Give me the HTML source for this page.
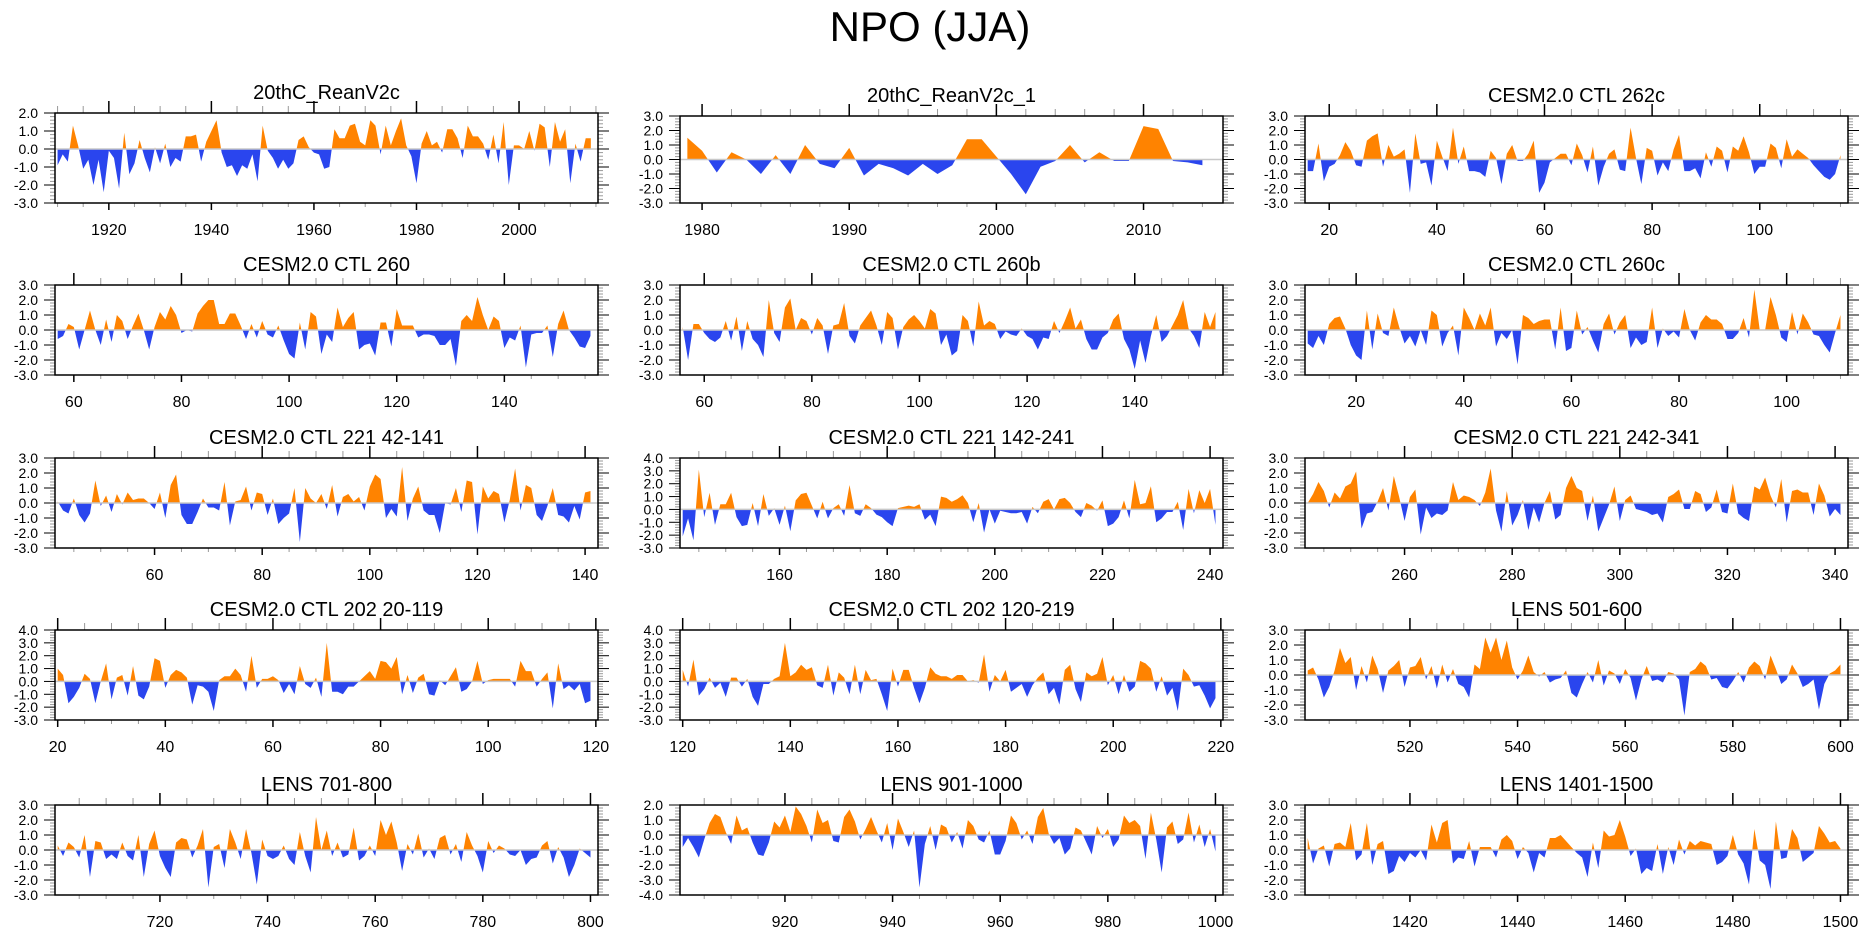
<!DOCTYPE html>
<html><head><meta charset="utf-8"><title>NPO (JJA)</title>
<style>
html,body{margin:0;padding:0;background:#fff;}
svg{display:block;font-family:"Liberation Sans",Arial,sans-serif;}
</style></head>
<body>
<svg id="chart" width="1861" height="936" viewBox="0 0 1861 936" xmlns="http://www.w3.org/2000/svg">
<text x="930" y="41" font-size="42" text-anchor="middle" fill="#000">NPO (JJA)</text>
</svg>
<script>
const titles = ["20thC_ReanV2c","20thC_ReanV2c_1","CESM2.0 CTL 262c","CESM2.0 CTL 260","CESM2.0 CTL 260b","CESM2.0 CTL 260c","CESM2.0 CTL 221 42-141","CESM2.0 CTL 221 142-241","CESM2.0 CTL 221 242-341","CESM2.0 CTL 202 20-119","CESM2.0 CTL 202 120-219","LENS 501-600","LENS 701-800","LENS 901-1000","LENS 1401-1500"];
const startYears = [1910,1979,16,57,56,11,42,142,242,20,120,501,701,901,1401];
const yMins = [-3,-3,-3,-3,-3,-3,-3,-3,-3,-3,-3,-3,-3,-4,-3];
const yMaxs = [2,3,3,3,3,3,3,4,3,4,4,3,3,2,3];
const labelSteps = [20,10,20,20,20,20,20,20,20,20,20,20,20,20,20];
const minorSteps = [5,2,5,5,5,5,5,5,5,5,5,5,5,5,5];

const vals1 = [-0.9,-0.3,-0.7,1.3,0.2,-1.1,-0.6,-2.0,-0.6,-2.4,-0.1,-0.5,-2.2,0.9,-1.4,-0.8,0.5,-0.5,-1.3,0.1,-0.8,0.3,-1.0,-0.5,-0.7,0.7,0.7,0.8,-0.7,0.4,1.0,1.6,-0.2,-1.0,-0.9,-1.5,-0.9,-1.1,-0.3,-1.8,1.3,-0.1,-0.5,-1.1,-0.6,-1.1,-0.8,0.5,0.7,0.1,-0.2,-0.3,-1.1,-1.0,1.1,0.6,0.6,1.3,1.4,0.4,0.2,1.6,1.3,-0.3,1.3,0.2,1.0,1.7,0.2,-0.4,-1.9,0.3,1.0,0.2,0.4,-0.2,1.1,1.1,0.6,-0.5,1.3,0.7,0.7,0.3,-0.6,0.8,-0.8,1.5,-2.0,0.2,0.2,0.0,1.0,-0.1,1.4,1.2,-1.0,1.5,0.4,1.1,-1.9,0.3,-0.7,0.6,0.6];
const vals2 = [1.5,0.6,-0.9,0.5,0.0,-1.0,0.3,-1.0,1.0,-0.3,-0.6,0.8,-1.1,-0.3,-0.6,-1.1,-0.3,-1.0,-0.4,1.4,1.4,0.2,-1.0,-2.4,-0.5,-0.1,1.0,-0.2,0.5,-0.1,-0.1,2.3,2.1,-0.1,-0.2,-0.4];
const vals3 = [-0.8,-0.8,1.1,-1.5,-0.5,-0.3,0.3,1.2,0.6,-0.4,-0.5,1.3,1.6,1.8,-0.5,1.0,0.2,0.4,0.7,-2.3,1.8,-0.3,-0.2,-1.8,1.3,0.2,-0.8,2.2,-0.3,0.9,-0.8,-0.8,-0.9,-1.2,0.6,0.1,-1.7,0.4,1.0,-0.1,-0.1,0.4,1.3,-2.3,-1.6,-0.2,0.1,0.4,0.4,-0.4,1.1,0.3,-0.9,0.9,-1.8,-0.5,0.4,0.7,-0.7,-0.8,2.2,0.1,-1.7,0.8,0.6,-1.1,-0.2,-0.8,0.7,1.7,-0.8,-0.8,-0.6,-1.3,0.5,-0.5,0.9,0.6,-0.9,0.9,0.6,1.6,0.5,-1.0,-0.5,-0.5,1.1,0.8,-0.6,1.4,0.2,0.7,0.4,0.1,-0.4,-0.8,-1.2,-1.4,-1.0,0.3];
const vals4 = [-0.6,-0.4,0.4,0.2,-1.3,0.0,1.3,0.0,-1.0,0.7,-0.8,1.0,0.6,-0.6,0.3,1.1,0.0,-1.3,0.2,1.2,0.7,1.6,1.0,-0.2,0.0,-0.1,1.1,1.6,2.0,2.0,0.4,0.4,1.1,1.1,0.3,-0.6,0.4,-0.5,0.6,-0.3,-0.5,0.3,-0.7,-1.6,-1.9,0.5,-1.3,1.2,0.9,-1.6,-0.3,-0.8,1.5,0.2,0.8,1.2,-1.3,-1.0,-0.9,-1.7,0.5,0.5,-1.1,1.4,0.3,0.3,0.3,-0.5,-0.3,-0.3,-0.4,-1.0,-1.0,-0.6,-2.4,0.6,1.0,0.6,2.2,1.0,0.0,0.9,0.6,-1.2,-0.5,-0.7,0.3,-2.5,-0.3,-0.2,-0.2,0.3,-1.8,0.4,1.3,0.0,-0.5,-1.1,-1.2,-0.4];
const vals5 = [0.2,-2.0,0.4,0.4,-0.2,-0.6,-0.8,-0.5,0.6,-0.7,0.9,-1.4,0.6,-0.6,-1.0,-1.8,2.0,-0.2,-0.8,1.5,2.1,0.0,0.8,0.6,-0.3,0.8,0.3,-1.6,0.3,0.4,1.8,-0.4,-0.9,0.3,0.8,1.3,0.3,-1.0,1.2,0.8,-1.3,0.2,0.7,1.0,0.6,0.1,1.4,1.1,-1.0,-0.3,-1.7,-1.4,1.0,0.6,-1.1,1.9,0.3,0.6,0.4,-0.6,-0.1,-0.3,-0.4,0.1,-0.4,-0.6,-1.3,-0.5,-0.6,0.6,-0.2,0.6,1.5,0.1,0.7,-0.6,-1.3,-1.3,-0.5,-0.2,0.7,1.1,-0.6,-1.3,-2.6,-0.7,-2.2,-0.4,1.0,-0.8,-0.4,0.3,1.0,2.0,0.1,-0.4,-1.2,1.2,0.2,1.2];
const vals6 = [-0.9,-1.2,-0.4,-1.0,0.4,0.8,0.9,0.1,-1.0,-1.7,-2.0,1.3,-1.3,1.1,-0.2,-0.4,1.5,0.2,-0.9,-0.4,-1.1,0.0,-1.0,1.3,1.0,-1.1,-0.2,0.3,-1.7,1.5,0.8,0.0,1.1,0.3,1.5,-1.1,-0.2,-0.6,0.0,-2.3,1.0,0.8,0.4,0.6,0.7,0.7,-1.3,1.5,-1.4,-1.2,1.3,-0.3,0.2,-0.7,-1.5,0.4,1.1,-0.3,0.5,1.0,-1.2,-0.5,-1.0,-0.8,1.5,-1.2,0.1,-0.4,-0.1,-0.5,1.4,0.0,-0.7,0.5,1.0,0.7,0.7,0.4,-0.6,-0.6,-0.2,0.8,-0.5,2.7,0.0,0.0,2.2,1.0,-0.5,-0.8,1.2,-0.3,1.1,0.5,-0.3,-0.4,-1.0,-1.5,-0.2,1.0];
const vals7 = [0.1,-0.5,-0.7,0.3,-0.8,-1.3,-0.7,1.5,-0.2,0.5,-0.6,0.6,-0.1,0.7,0.2,0.3,0.3,0.0,-0.4,0.7,-1.0,1.2,1.9,-0.8,-1.4,-1.4,-0.6,0.3,-0.3,-0.3,-0.5,1.4,-1.5,0.1,0.2,1.1,-0.5,0.7,0.6,-0.8,0.3,-1.4,-1.0,-0.7,1.0,-2.6,1.0,0.3,0.0,0.6,-0.4,1.2,-0.9,0.4,0.6,0.1,0.4,-0.5,1.1,1.9,1.6,-1.0,-0.4,-0.9,2.4,-1.2,0.3,1.1,-0.5,-0.8,-0.8,-2.0,0.0,-0.1,1.0,-0.6,1.5,1.4,-2.1,1.1,0.3,0.8,0.6,-1.3,0.2,2.3,-0.5,1.2,1.0,-0.8,-1.2,-0.2,1.0,-0.8,-0.9,-1.3,-0.2,-1.1,0.7,0.8];
const vals8 = [-2.1,-0.7,-2.4,3.1,-0.6,1.3,-1.2,0.4,0.4,1.3,-0.6,-1.3,-1.2,0.5,-1.3,1.2,-0.5,0.1,-1.2,0.3,-1.7,0.7,1.2,1.3,0.3,-0.7,0.6,-0.7,0.1,0.4,-0.5,1.9,-0.3,-0.5,0.4,0.1,-0.4,-0.6,-1.0,-1.3,0.1,0.2,0.3,0.2,0.4,-0.8,-0.4,-1.3,1.0,0.9,0.6,0.8,1.1,0.5,-1.0,0.5,-1.8,0.0,-1.1,-0.1,-0.2,-0.3,-0.3,-0.2,-1.1,0.2,-0.3,0.6,0.8,0.0,0.8,0.9,0.5,-0.2,-0.6,0.5,0.3,-0.1,0.7,-1.3,-1.1,-0.6,0.7,-0.7,2.3,0.4,0.5,1.8,-1.0,-0.7,-0.2,-0.2,0.6,-1.6,1.6,-0.3,1.5,0.5,1.6,-1.2];
const vals9 = [0.0,0.6,1.4,0.8,-0.3,0.7,0.3,1.1,1.3,2.1,-1.7,-0.7,-0.6,0.1,1.0,-0.5,1.8,0.4,-1.2,0.4,0.9,-2.1,-0.3,-1.0,-0.7,-0.8,-0.5,1.4,0.2,0.5,0.4,0.2,-0.2,0.7,2.3,-0.5,-1.9,0.8,-1.5,-0.8,0.2,-1.8,-0.3,-1.3,0.0,0.8,-1.1,-0.8,1.0,1.8,1.0,0.8,-1.2,0.5,-1.9,-1.0,-0.1,1.1,-1.2,0.2,0.5,-0.4,-0.5,-0.6,-0.8,-0.7,-1.3,0.4,0.6,0.9,-0.4,-0.4,0.8,0.6,-0.6,-0.3,0.9,-0.6,-0.7,1.3,-0.7,-1.0,-1.2,1.1,0.9,1.7,0.5,-0.3,1.6,-1.3,0.8,0.9,0.7,0.7,-0.8,1.3,0.5,-0.9,-0.4,-0.8];
const vals10 = [1.0,0.5,-1.7,-1.2,-0.5,0.6,0.2,-1.7,0.0,1.4,-1.4,0.3,0.5,-1.1,1.2,-1.1,-1.4,-0.4,1.8,1.6,-0.5,0.5,0.9,0.7,0.3,-1.8,-0.3,-0.4,-0.8,-2.3,0.1,0.4,0.4,1.0,0.5,-0.8,2.0,-0.5,0.2,0.2,0.4,0.1,-0.9,-0.2,-1.0,1.2,-0.2,-0.5,0.3,-1.2,3.0,-0.8,-0.8,-1.0,-0.4,-0.4,0.0,0.4,0.8,0.2,1.6,1.5,1.0,1.9,-1.0,0.5,-0.9,0.3,0.6,-1.0,-1.1,0.1,-0.3,0.4,1.1,-0.8,-0.6,0.0,1.6,-0.2,0.1,0.2,0.2,0.2,0.2,-0.4,1.6,0.8,0.8,-0.4,0.2,0.7,-2.1,1.4,-0.6,-0.3,-0.7,-0.2,-1.7,-1.5];
const vals11 = [0.9,-0.4,1.7,-1.1,-0.6,0.3,-0.5,-0.1,-1.2,0.3,0.3,-0.4,0.2,-1.2,-1.9,-0.2,-0.2,0.2,0.4,3.0,0.4,0.7,1.3,0.9,1.1,-0.3,-0.5,1.3,-1.1,0.7,0.3,-1.0,1.3,-1.0,0.9,0.1,0.2,-1.0,-2.3,1.0,-0.4,0.9,0.9,-0.5,-1.7,-0.5,1.1,0.6,0.4,0.4,0.2,0.5,0.5,0.0,0.1,-0.1,2.1,-0.8,0.5,0.0,0.9,-0.8,-0.5,-0.2,-1.2,-0.3,0.3,0.7,-1.0,-0.5,-1.8,0.9,1.3,-0.6,-1.6,0.7,0.4,0.6,1.9,-0.3,0.5,-1.0,0.5,-0.8,-0.4,1.6,1.4,1.0,-0.8,0.4,-1.1,-0.5,-2.3,1.0,0.5,-0.4,-0.3,-1.1,-2.1,-1.3];
const vals12 = [0.3,0.5,-0.3,-1.5,-0.8,0.3,1.8,0.8,1.2,-1.0,0.6,-0.5,1.3,0.4,-1.2,0.3,0.6,1.0,-0.8,0.5,0.6,1.2,-0.3,0.6,-0.9,0.7,-0.5,0.4,-0.6,-0.8,-1.5,0.7,0.4,2.5,1.5,2.5,1.0,2.3,0.5,-0.3,0.3,1.3,0.2,-0.1,0.2,-0.5,-0.3,-0.2,0.3,-1.2,-1.5,-0.6,0.2,-0.5,1.0,-0.7,0.3,0.1,-0.6,0.4,-0.2,-1.7,-0.3,0.6,-0.4,-0.3,-0.5,0.2,0.1,-0.3,-2.7,0.2,0.4,0.9,0.6,-0.3,-0.2,-0.8,-0.9,-0.4,0.2,-0.5,0.5,0.9,0.6,-0.3,1.3,0.4,-0.6,-0.3,0.7,0.1,-0.8,-0.6,-0.3,-2.3,-0.6,0.1,0.3,0.7];
const vals13 = [0.3,-0.4,0.5,0.2,-0.5,1.0,-1.8,0.6,0.5,-0.6,-0.3,-0.6,0.5,-0.4,-0.7,1.0,-1.8,0.4,1.3,-0.4,-1.2,-1.8,0.5,0.8,0.7,-0.5,0.3,1.4,-2.5,0.2,0.4,-1.2,1.4,0.5,-0.6,1.4,-0.2,-2.3,0.7,-0.4,-0.6,-0.4,0.3,-0.6,-1.0,1.2,-0.4,-1.5,2.2,0.0,1.3,-0.4,0.5,-0.5,-0.3,1.5,-0.7,-0.4,0.3,-0.4,2.0,1.0,1.9,0.5,-1.4,0.4,-0.3,1.1,-0.5,0.1,-0.6,0.8,1.0,-0.3,0.4,-0.8,1.2,0.3,-0.4,-1.5,0.6,-0.2,0.3,0.1,-0.3,-0.4,0.0,-1.0,-0.6,-0.5,0.3,0.6,-0.9,0.2,-0.5,-1.8,-1.0,0.1,-0.2,-0.5];
const vals14 = [-0.8,-0.2,-0.8,-1.5,-0.3,0.8,1.4,1.2,0.2,-0.6,1.3,0.3,0.5,-0.5,-1.3,-1.4,-0.5,0.9,0.5,1.3,0.2,1.9,1.4,0.6,-0.5,1.7,0.8,1.0,-0.4,-0.5,1.2,1.7,0.9,-0.3,0.4,1.2,0.3,-0.5,0.8,-1.0,1.1,0.2,-0.8,0.3,-3.5,-0.6,0.6,-1.0,0.7,0.5,-0.5,0.2,-0.9,1.0,0.6,-0.3,-0.5,0.3,-1.3,-1.3,-0.4,1.3,0.8,-0.3,0.3,-0.6,1.2,1.8,0.1,-0.6,-0.2,-1.3,-0.9,0.5,0.3,-0.5,-1.3,0.6,-0.2,0.4,-0.8,-0.3,1.3,0.8,1.0,0.6,-1.6,1.5,-0.3,-2.5,0.5,0.9,-0.6,-0.3,1.5,-0.5,0.7,-0.8,0.4,-1.1];
const vals15 = [0.8,-0.9,0.1,0.3,-1.1,0.4,0.5,0.2,1.8,-0.7,-0.3,1.8,-1.0,0.4,0.6,-1.6,-1.4,-0.4,-0.8,-0.2,-0.5,0.0,-0.7,1.7,0.5,1.8,2.0,-0.9,-0.5,-0.6,0.6,-1.1,0.2,0.2,0.2,-0.5,0.7,1.0,0.6,-0.6,0.2,-0.2,-1.5,-0.2,-0.5,0.8,0.8,1.0,0.6,0.2,-0.2,-0.5,-1.8,0.5,-1.2,1.3,0.9,1.0,2.0,0.9,-0.4,0.1,-1.6,-1.2,-1.4,0.4,-1.6,0.2,-1.0,0.7,-0.3,0.6,0.3,0.6,0.5,0.4,-1.0,-0.8,-0.4,1.0,-0.3,-0.9,-2.3,1.4,-0.7,-1.0,-2.6,1.9,-0.6,-0.5,1.4,0.8,-0.8,-0.5,-0.2,1.6,1.1,0.5,0.6,0.1];
const allVals = [vals1,vals2,vals3,vals4,vals5,vals6,vals7,vals8,vals9,vals10,vals11,vals12,vals13,vals14,vals15];

const NS = "http://www.w3.org/2000/svg";
const svg = document.getElementById("chart");
const colLeft = [55, 680, 1305];
const plotW = 543, plotH = 90;
const rowTop = [116, 285, 458, 630, 805];
function mk(tag, attrs, parent) {
  const e = document.createElementNS(NS, tag);
  for (const k in attrs) e.setAttribute(k, attrs[k]);
  (parent || svg).appendChild(e);
  return e;
}
for (let p = 0; p < 15; p++) {
  const col = p % 3, row = Math.floor(p / 3);
  const L = colLeft[col], T = (p === 0 ? 113 : rowTop[row]), R = L + plotW;
  const B = (row === 0 ? 203 : T + plotH), H = B - T;
  const data = allVals[p], s = startYears[p];
  const xmin = s - 0.5, xmax = s + data.length - 1 + 1.4;
  const ymin = yMins[p], ymax = yMaxs[p];
  const xs = v => L + (v - xmin) / (xmax - xmin) * plotW;
  const ys = v => B - (v - ymin) / (ymax - ymin) * H;
  const g = mk("g", {});
  
  
  const t = mk("text", {x: (L + R) / 2, y: T - 14, "font-size": 20, "text-anchor": "middle", fill: "#000"}, g);
  t.textContent = titles[p];
  
  
  const id = "c" + p;
  const defs = mk("defs", {}, g);
  const cpU = mk("clipPath", {id: id + "u"}, defs);
  mk("rect", {x: L, y: T, width: plotW, height: ys(0) - T}, cpU);
  const cpD = mk("clipPath", {id: id + "d"}, defs);
  mk("rect", {x: L, y: ys(0), width: plotW, height: B - ys(0)}, cpD);
  let pts = xs(s).toFixed(2) + "," + ys(0).toFixed(2);
  data.forEach((v, i) => { pts += " " + xs(s + i).toFixed(2) + "," + ys(v).toFixed(2); });
  pts += " " + xs(s + data.length - 1).toFixed(2) + "," + ys(0).toFixed(2);
  const pu = mk("polygon", {points: pts, fill: "#FF8300", "clip-path": "url(#" + id + "u)"}, g);
  
  
  const pd = mk("polygon", {points: pts, fill: "#2A45EE", "clip-path": "url(#" + id + "d)"}, g);
  
  
  const zl = mk("line", {x1: L, x2: R, y1: ys(0), y2: ys(0), stroke: "#c8c8c8", "stroke-width": 1.5}, g);
  
  
  for (let v = ymin; v <= ymax + 1e-6; v += 0.2) {
    const yy = ys(v), major = Math.abs(v - Math.round(v)) < 1e-6;
    const len = major ? 11 : 5, c2 = major ? "#000" : "#999";
    mk("line", {x1: L - len, x2: L, y1: yy, y2: yy, stroke: c2, "stroke-width": 1}, g);
    mk("line", {x1: R, x2: R + len, y1: yy, y2: yy, stroke: c2, "stroke-width": 1}, g);
    if (major) {
      const yl = mk("text", {x: L - 17, y: yy + 5, "font-size": 14, "text-anchor": "end", fill: "#000"}, g);
      yl.textContent = Math.round(v).toFixed(1);
      
      
    }
  }
  const ms = minorSteps[p], ls = labelSteps[p];
  for (let v = Math.ceil(xmin / ms) * ms; v <= xmax; v += ms) {
    const xx = xs(v), major = v % ls === 0;
    const c = major ? "#000" : "#999";
    mk("line", {x1: xx, x2: xx, y1: T - (major ? 12 : 7), y2: T, stroke: c, "stroke-width": major ? 1.5 : 1}, g);
    mk("line", {x1: xx, x2: xx, y1: B, y2: B + (major ? 7 : 4), stroke: c, "stroke-width": major ? 1.5 : 1}, g);
    if (major) {
      const xl = mk("text", {x: xx, y: B + 32, "font-size": 16, "text-anchor": "middle", fill: "#000"}, g);
      xl.textContent = v;
      
      
    }
  }
  const fr = mk("rect", {x: L, y: T, width: plotW, height: H, fill: "none", stroke: "#000", "stroke-width": 1.5}, g);
  
  
}
</script>
</body></html>
